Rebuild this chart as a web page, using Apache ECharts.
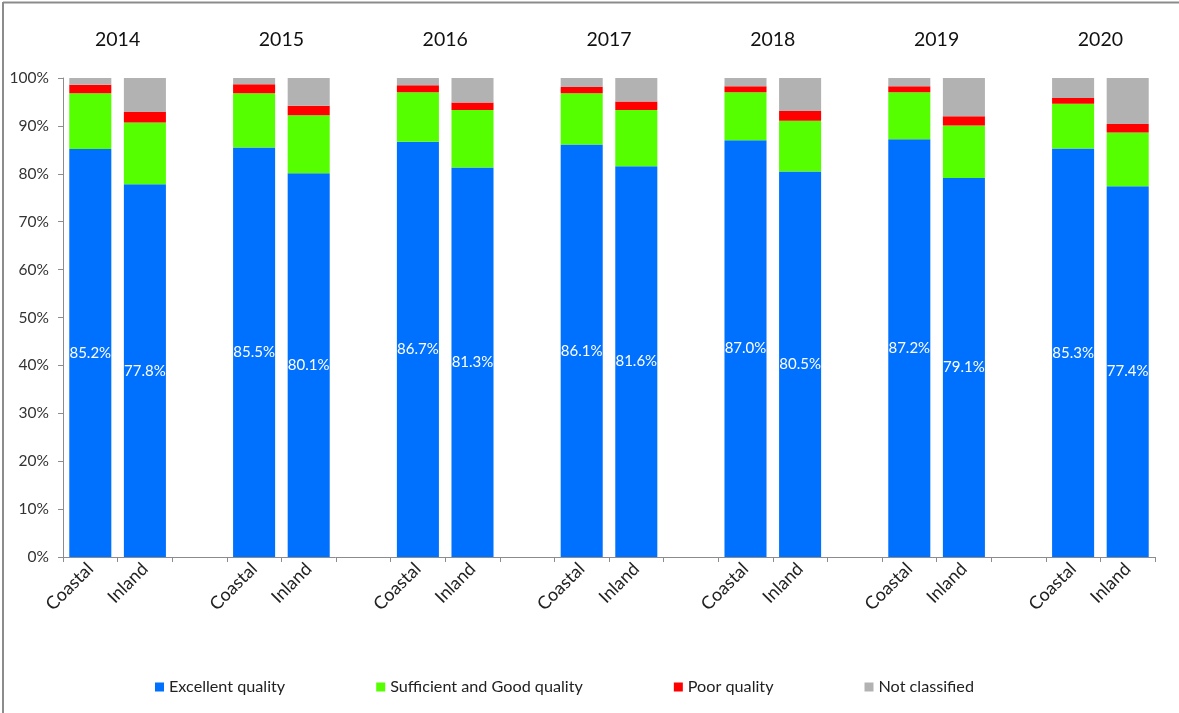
<!DOCTYPE html>
<html>
<head>
<meta charset="utf-8">
<script src="https://cdn.jsdelivr.net/npm/echarts@6/dist/echarts.min.js"></script>
<style>
html,body{margin:0;padding:0;background:#fff;}
#c{width:1179px;height:713px;}
</style>
</head>
<body>
<div id="c"></div>
<script>
var years = ['2014','2015','2016','2017','2018','2019','2020'];
var groupLabels = ['Coastal','Inland'];
var seriesNames = ['Excellent quality','Sufficient and Good quality','Poor quality','Not classified'];
var yTicks = [0,10,20,30,40,50,60,70,80,90,100];

var excellentCoastal = [85.2,85.5,86.7,86.1,87.0,87.2,85.3];
var excellentInland  = [77.8,80.1,81.3,81.6,80.5,79.1,77.4];
var goodCoastal      = [11.6,11.3,10.3,10.7,10.0,9.8,9.3];
var goodInland       = [12.9,12.1,12.0,11.7,10.6,11.0,11.2];
var poorCoastal      = [1.8,1.9,1.5,1.3,1.3,1.3,1.2];
var poorInland       = [2.2,2.0,1.6,1.8,2.0,1.9,1.8];
var ncCoastal        = [1.4,1.3,1.5,1.9,1.7,1.7,4.2];
var ncInland         = [7.1,5.8,5.1,4.9,6.9,8.0,9.6];

var colors = ['#0070FF','#55FF00','#FF0000','#B2B2B2'];

// Build category list: Coastal, Inland, (gap) for each year, no trailing gap
var categories = [];
years.forEach(function(y,i){
  categories.push(groupLabels[0], groupLabels[1]);
  if(i < years.length-1) categories.push('');
});
function build(c, inl){
  var out = [];
  years.forEach(function(y,i){
    out.push(c[i], inl[i]);
    if(i < years.length-1) out.push('-');
  });
  return out;
}
var seriesData = [
  build(excellentCoastal, excellentInland),
  build(goodCoastal, goodInland),
  build(poorCoastal, poorInland),
  build(ncCoastal, ncInland)
];

var font = 'Lato';
var chart = echarts.init(document.getElementById('c'));
var option = {
  animation:false,
  backgroundColor:'#fff',
  grid:{left:63, right:24, top:78, bottom:156},
  legend:{
    data:seriesNames,
    left:150, top:674,
    icon:'rect', itemWidth:9, itemHeight:9, itemGap:91,
    textStyle:{fontFamily:font, fontSize:16.2, color:'#222'}
  },
  xAxis:[{
    type:'category',
    data:categories,
    axisLine:{lineStyle:{color:'#8c8c8c'}},
    axisTick:{show:true, length:5, lineStyle:{color:'#8c8c8c'}},
    axisLabel:{rotate:45, margin:9, fontFamily:font, fontSize:18, color:'#222', interval:0}
  },{
    type:'value',
    position:'top',
    min:0, max:categories.length, interval:1,
    axisLine:{show:false}, axisTick:{show:false}, splitLine:{show:false},
    axisLabel:{
      margin:28, fontFamily:font, fontSize:19.5, color:'#111',
      formatter:function(v){ return (v%3===1) ? years[(v-1)/3] : ''; }
    }
  }],
  yAxis:{
    type:'value', min:yTicks[0], max:yTicks[yTicks.length-1], interval:10,
    axisLine:{show:true, lineStyle:{color:'#8c8c8c'}},
    axisTick:{show:true, length:5, lineStyle:{color:'#8c8c8c'}},
    splitLine:{show:false},
    axisLabel:{formatter:'{value}%', margin:14, fontFamily:font, fontSize:15.5, color:'#333'}
  },
  series:seriesNames.map(function(n,i){
    return {
      name:n, type:'bar', stack:'total', xAxisIndex:0,
      data:seriesData[i], barWidth:'77%',
      itemStyle:{color:colors[i]},
      label: i===0 ? {show:true, position:'inside', color:'#fff', fontFamily:font, fontSize:15,
        formatter:function(p){ return p.value.toFixed(1)+'%'; }} : {show:false}
    };
  }),
  graphic:[
    {type:'line', shape:{x1:3,y1:2.5,x2:1179,y2:2.5}, style:{stroke:'#8c8c8c', lineWidth:2}},
    {type:'line', shape:{x1:3,y1:2,x2:3,y2:713}, style:{stroke:'#8c8c8c', lineWidth:2}}
  ]
};
chart.setOption(option);
</script>
</body>
</html>
